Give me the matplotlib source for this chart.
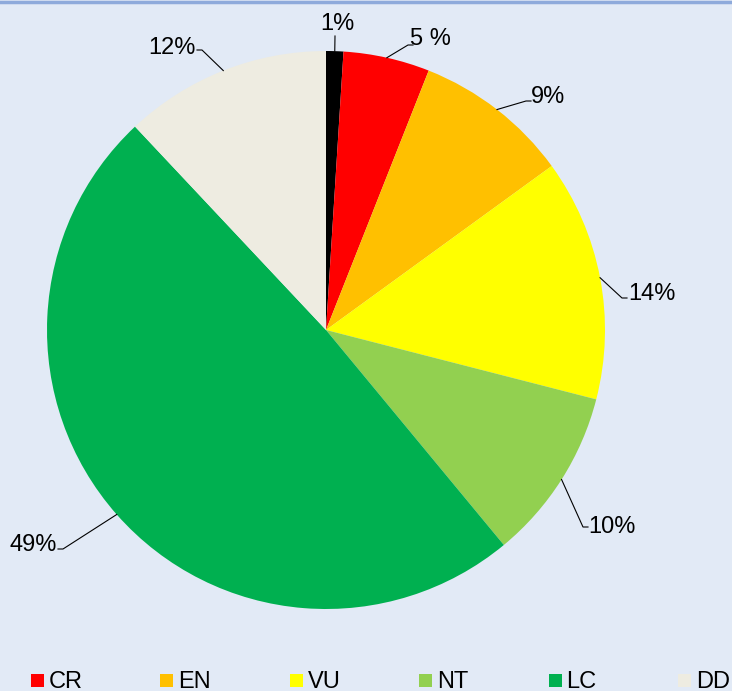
import numpy as np
import matplotlib
matplotlib.use("Agg")
import matplotlib.pyplot as plt
from matplotlib.patches import Rectangle

plt.rcParams['font.family'] = ['Liberation Sans', 'DejaVu Sans']

# data
categories = ["EX", "CR", "EN", "VU", "NT", "LC", "DD"]
values = [1, 5, 9, 14, 10, 49, 12]
label_texts = ["1%", "5 %", "9%", "14%", "10%", "49%", "12%"]
colors = ["#000000", "#FF0000", "#FFC000", "#FFFF00", "#92D050", "#00B050", "#EEECE1"]
legend_cats = ["CR", "EN", "VU", "NT", "LC", "DD"]

W, H = 732, 691
bg = "#E2EAF6"
fig = plt.figure(figsize=(W / 100, H / 100), dpi=100, facecolor=bg)
ax = fig.add_axes([0, 0, 1, 1])
ax.set_facecolor(bg)

cx, cy, R = 326, H - 330, 279
ax.pie(values, colors=colors, startangle=90, counterclock=False,
       center=(cx, cy), radius=R, wedgeprops=dict(linewidth=0))
ax.set_xlim(0, W)
ax.set_ylim(0, H)
ax.set_aspect('auto')
ax.axis('off')

# label positions (image coords: text center, elbow point, tick direction)
label_pos = [(337, 22), (430, 37), (548, 95), (652, 292), (612, 525), (33, 543), (172, 46)]
elbows = [(335, 36), (408, 45), (526, 101), (622, 298), (583, 527), (63, 549), (202, 50)]
tick_dir = [0, 1, 1, 1, 1, -1, -1]

total = sum(values)
cum = np.cumsum([0] + values)
for i, v in enumerate(values):
    mid = (cum[i] + cum[i + 1]) / 2 / total * 360  # clockwise from top
    a = np.deg2rad(mid)
    ex, ey = cx + R * np.sin(a), cy + R * np.cos(a)
    bx, by = elbows[i]
    by = H - by
    xs = [ex, bx]
    ys = [ey, by]
    if tick_dir[i]:
        xs.append(bx + 5 * tick_dir[i])
        ys.append(by)
    ax.plot(xs, ys, color="black", lw=0.8)
    tx, ty = label_pos[i]
    ax.text(tx, H - ty - 8, label_texts[i], fontsize=17, ha='center', va='baseline', color='black')

# legend
for j, cat in enumerate(legend_cats):
    x0 = 31 + 129.4 * j
    col = colors[categories.index(cat)]
    ax.add_patch(Rectangle((x0, H - 687), 13, 13, color=col, lw=0))
    ax.text(x0 + 18, H - 688, cat, fontsize=17, ha='left', va='baseline', color='black')

# top border
ax.plot([0, W], [H - 1.5, H - 1.5], color="#8EAADB", lw=2.5)

fig.savefig("out.png", dpi=100, facecolor=bg)
